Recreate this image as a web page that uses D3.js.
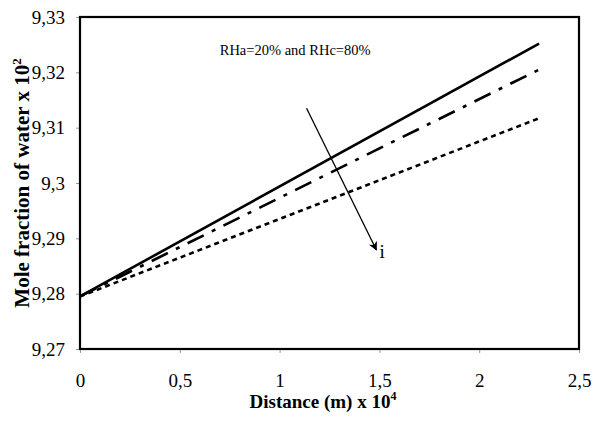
<!DOCTYPE html>
<html>
<head>
<meta charset="utf-8">
<script src="https://cdn.jsdelivr.net/npm/d3@7"></script>
<style>
  body { margin: 0; background: #fff; }
  text { font-family: "Liberation Serif", "Times New Roman", serif; fill: #000; }
</style>
</head>
<body>
<svg id="chart" width="594" height="421"></svg>
<script>
var distance = [0, 2.3];
var solid = [9.2795, 9.3252];
var dashDot = [9.2795, 9.3205];
var dotted = [9.2795, 9.3117];
var xTicks = [0, 0.5, 1, 1.5, 2, 2.5];
var yTicks = [9.27, 9.28, 9.29, 9.30, 9.31, 9.32, 9.33];
var annotation = "RHa=20% and RHc=80%";

var svg = d3.select("#chart"),
  margin = { top: 17, right: 15, bottom: 72, left: 80 },
  width = +svg.attr("width") - margin.left - margin.right,
  height = +svg.attr("height") - margin.top - margin.bottom,
  g = svg.append("g").attr("transform", "translate(" + margin.left + "," + margin.top + ")");

var x = d3.scaleLinear().domain([0, 2.5]).range([0, width]);
var y = d3.scaleLinear().domain([9.27, 9.33]).range([height, 0]);

var fmt = function (d) { return String(+d.toFixed(2)).replace(".", ","); };

// axes
var xAxis = g.append("g")
  .attr("transform", "translate(0," + height + ")")
  .call(d3.axisBottom(x).tickValues(xTicks).tickFormat(fmt).tickSize(4).tickPadding(21));
var yAxis = g.append("g")
  .call(d3.axisLeft(y).tickValues(yTicks).tickFormat(fmt).tickSize(4).tickPadding(11));

[xAxis, yAxis].forEach(function (a) {
  a.select(".domain").remove();
  a.selectAll(".tick line").attr("stroke", "#999").attr("stroke-width", 1);
  a.selectAll(".tick text").style("font-size", "19px").attr("fill", "#000");
});

// frame
g.append("rect")
  .attr("width", width)
  .attr("height", height)
  .attr("fill", "none")
  .attr("stroke", "#000")
  .attr("stroke-width", 2.2);

var line = d3.line()
  .x(function (d, i) { return x(distance[i]); })
  .y(function (d) { return y(d); });

var series = [
  { values: dotted, dash: "5,4" },
  { values: dashDot, dash: "18,9,4,9" },
  { values: solid, dash: null }
];

g.selectAll(".series")
  .data(series)
  .enter().append("path")
  .attr("class", "series")
  .attr("d", function (d) { return line(d.values); })
  .attr("fill", "none")
  .attr("stroke", "#000")
  .attr("stroke-width", 2.6)
  .attr("stroke-dasharray", function (d) { return d.dash; });

// annotation
g.append("text")
  .attr("x", x(0.7))
  .attr("y", y(9.3231))
  .style("font-size", "14.5px")
  .text(annotation);

// arrow
svg.append("defs").append("marker")
  .attr("id", "head")
  .attr("viewBox", "0 0 10 10")
  .attr("refX", 9).attr("refY", 5)
  .attr("markerWidth", 9).attr("markerHeight", 9)
  .attr("markerUnits", "userSpaceOnUse")
  .attr("orient", "auto")
  .append("path")
  .attr("d", "M0,0 L10,5 L0,10 L3,5 Z")
  .attr("fill", "#000");

g.append("line")
  .attr("x1", x(1.135)).attr("y1", y(9.3135))
  .attr("x2", x(1.485)).attr("y2", y(9.2879))
  .attr("stroke", "#000")
  .attr("stroke-width", 1.3)
  .attr("marker-end", "url(#head)");

g.append("text")
  .attr("x", x(1.5))
  .attr("y", y(9.2865))
  .style("font-size", "19px")
  .text("i");

// axis titles
var xt = svg.append("text")
  .attr("x", 323)
  .attr("y", 408)
  .attr("text-anchor", "middle")
  .style("font-size", "19px")
  .style("font-weight", "bold");
xt.append("tspan").text("Distance (m) x 10");
xt.append("tspan").attr("dy", -8).style("font-size", "12px").text("4");

var yt = svg.append("text")
  .attr("transform", "translate(29," + (margin.top + height / 2) + ") rotate(-90)")
  .attr("text-anchor", "middle")
  .style("font-size", "21px")
  .style("font-weight", "bold");
yt.append("tspan").text("Mole fraction of water x 10");
yt.append("tspan").attr("dy", -8).style("font-size", "13px").text("2");
</script>
</body>
</html>
